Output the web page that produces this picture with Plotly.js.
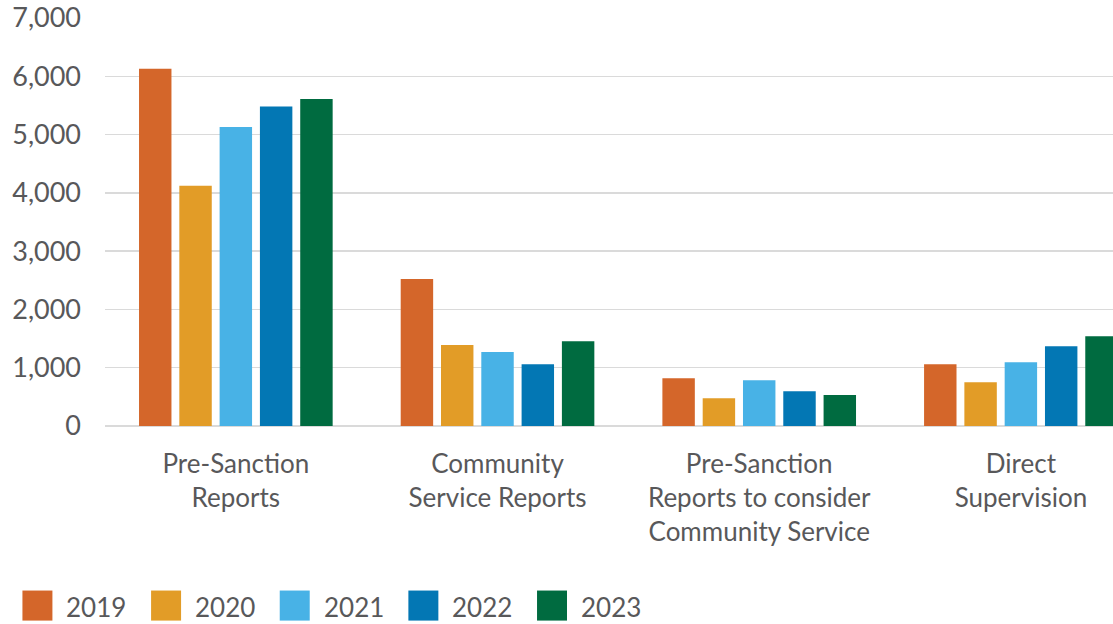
<!DOCTYPE html>
<html>
<head>
<meta charset="utf-8">
<script src="https://cdn.plot.ly/plotly-3.0.1.min.js"></script>
<style>html,body{margin:0;padding:0;background:#fff;}#chart{width:1113px;height:624px;}</style>
</head>
<body>
<div id="chart"></div>
<script>
// Data
var categories = [
  "Pre-Sanction<br>Reports",
  "Community<br>Service Reports",
  "Pre-Sanction<br>Reports to consider<br>Community Service",
  "Direct<br>Supervision"
];
var years = ["2019", "2020", "2021", "2022", "2023"];
var values2019 = [6130, 2520, 820, 1060];
var values2020 = [4120, 1390, 475, 750];
var values2021 = [5130, 1270, 785, 1095];
var values2022 = [5480, 1060, 595, 1370];
var values2023 = [5610, 1455, 530, 1540];
var seriesValues = [values2019, values2020, values2021, values2022, values2023];
var colors = ["#D4662A", "#E29C27", "#48B2E6", "#0377B4", "#006B40"];
var yTickVals = [0, 1000, 2000, 3000, 4000, 5000, 6000, 7000];

var W = 1113, H = 624;
var mL = 104.6, mR = 0, mT = 18.3, mB = H - 425.7;
var plotW = W - mL - mR, plotH = H - mT - mB;
function pxX(px) { return (px - mL) / plotW; }
function pxY(py) { return (H - mB - py) / plotH; }

var textColor = "#58585A";
var fontFamily = "Lato, 'Open Sans', sans-serif";

var traces = years.map(function (yr, i) {
  return {
    type: "bar",
    name: yr,
    x: categories,
    y: seriesValues[i],
    marker: { color: colors[i] },
    showlegend: false,
    hoverinfo: "x+y+name"
  };
});

// Custom legend (large squares)
var shapes = [];
var annotations = [];
years.forEach(function (yr, i) {
  var x0 = 22 + 128.7 * i;
  shapes.push({
    type: "rect", xref: "paper", yref: "paper",
    x0: pxX(x0), x1: pxX(x0 + 30), y0: pxY(620), y1: pxY(590),
    fillcolor: colors[i], line: { width: 0 }
  });
  annotations.push({
    xref: "paper", yref: "paper",
    x: pxX(x0 + 42), y: pxY(606),
    xanchor: "left", yanchor: "middle",
    text: yr, showarrow: false,
    font: { family: fontFamily, size: 26, color: textColor }
  });
});

var layout = {
  width: W, height: H,
  margin: { l: mL, r: mR, t: mT, b: mB, pad: 0 },
  paper_bgcolor: "#ffffff",
  plot_bgcolor: "#ffffff",
  font: { family: fontFamily, color: textColor, size: 26 },
  barmode: "group",
  bargap: 0.23,
  bargroupgap: 0.195,
  showlegend: false,
  xaxis: {
    type: "category",
    range: [-0.5, 3.352],
    showgrid: false,
    showline: false,
    zeroline: false,
    ticks: "",
    tickfont: { family: fontFamily, size: 26, color: textColor },
    ticklabelstandoff: 20,
    fixedrange: true
  },
  yaxis: {
    range: [0, 7000],
    tickvals: yTickVals,
    tickformat: ",d",
    showgrid: true,
    gridcolor: "#DADADA",
    gridwidth: 1.5,
    zeroline: true,
    zerolinecolor: "#DADADA",
    zerolinewidth: 1.5,
    showline: false,
    ticks: "",
    ticklabelstandoff: 23,
    tickfont: { family: fontFamily, size: 27, color: textColor },
    fixedrange: true
  },
  shapes: shapes,
  annotations: annotations
};

Plotly.newPlot("chart", traces, layout, { displayModeBar: false, staticPlot: true });
</script>
</body>
</html>
